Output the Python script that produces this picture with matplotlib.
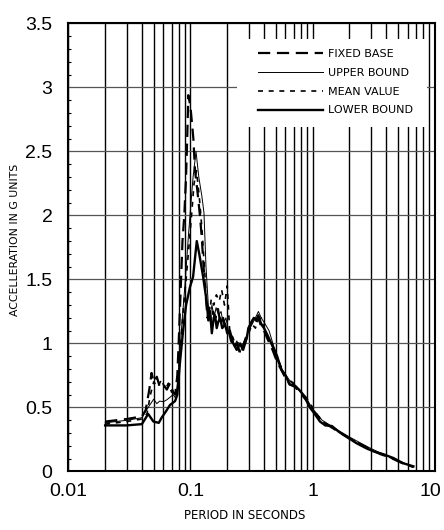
import numpy as np
import matplotlib
matplotlib.use("Agg")
import matplotlib.pyplot as plt
import matplotlib.transforms as mtransforms
from matplotlib.patches import Rectangle
from matplotlib.ticker import FixedLocator, NullFormatter, MultipleLocator

# response spectra (period in s, acceleration in g)
fixed_T = [0.02, 0.03, 0.04, 0.043, 0.046, 0.048, 0.05, 0.053, 0.056, 0.06,
           0.064, 0.068, 0.072, 0.075, 0.078, 0.08, 0.083, 0.086, 0.089, 0.092,
           0.094, 0.096, 0.1, 0.1056, 0.109, 0.1137, 0.1195, 0.1237, 0.128, 0.133,
           0.138, 0.143, 0.148, 0.153, 0.16, 0.168, 0.176, 0.185, 0.195, 0.205,
           0.215, 0.228, 0.24, 0.255, 0.27, 0.285, 0.3, 0.32, 0.34, 0.36,
           0.38, 0.4, 0.43, 0.47, 0.51, 0.55, 0.6, 0.65, 0.72, 0.8,
           0.88, 0.96, 1.05, 1.2, 1.4, 1.7, 2.0, 2.5, 3.0, 3.6,
           4.3, 5.0, 5.8, 6.7]
fixed_A = [0.39, 0.41, 0.43, 0.48, 0.64, 0.77, 0.7, 0.74, 0.66, 0.68,
           0.64, 0.69, 0.62, 0.6, 0.75, 1.0, 1.4, 1.8, 2.0, 2.3,
           2.6, 2.94, 2.85, 2.6, 2.35, 2.2, 2.0, 1.83, 1.6, 1.38,
           1.2, 1.28, 1.15, 1.25, 1.2, 1.27, 1.15, 1.2, 1.12, 1.1,
           1.02, 0.97, 1.0, 0.92, 0.98, 1.05, 1.12, 1.18, 1.15, 1.2,
           1.13, 1.1, 1.03, 0.95, 0.86, 0.8, 0.73, 0.68, 0.66, 0.61,
           0.56, 0.5, 0.46, 0.39, 0.35, 0.3, 0.26, 0.21, 0.17, 0.135,
           0.11, 0.08, 0.055, 0.035]

upper_T = [0.02, 0.03, 0.04, 0.045, 0.05, 0.053, 0.056, 0.06, 0.064, 0.068,
           0.072, 0.076, 0.08, 0.085, 0.09, 0.096, 0.1, 0.105, 0.111, 0.117,
           0.124, 0.129, 0.134, 0.14, 0.145, 0.15, 0.156, 0.162, 0.17, 0.178,
           0.186, 0.195, 0.205, 0.215, 0.228, 0.24, 0.255, 0.27, 0.285, 0.3,
           0.32, 0.34, 0.36, 0.38, 0.41, 0.44, 0.48, 0.52, 0.56, 0.6,
           0.66, 0.72, 0.8, 0.88, 0.97, 1.05, 1.2, 1.4, 1.7, 2.0,
           2.5, 3.0, 3.6, 4.3, 5.0, 5.8, 6.7]
upper_A = [0.38, 0.4, 0.42, 0.5, 0.565, 0.53, 0.55, 0.545, 0.56, 0.58,
           0.6, 0.57, 0.8, 1.15, 1.45, 1.83, 2.05, 2.3, 2.5, 2.3,
           2.15, 2.02, 1.6, 1.3, 1.22, 1.3, 1.2, 1.28, 1.22, 1.25,
           1.15, 1.2, 1.1, 1.05, 0.98, 1.02, 0.93, 1.0, 1.05, 1.1,
           1.15, 1.2, 1.25, 1.2, 1.15, 1.1, 0.98, 0.9, 0.8, 0.76,
           0.7, 0.67, 0.63, 0.58, 0.51, 0.46, 0.4, 0.36, 0.31, 0.27,
           0.22, 0.18, 0.145, 0.115, 0.085, 0.06, 0.04]

mean_T = [0.02, 0.03, 0.04, 0.044, 0.047, 0.05, 0.054, 0.058, 0.062, 0.066,
          0.07, 0.074, 0.078, 0.082, 0.087, 0.092, 0.097, 0.102, 0.107, 0.112,
          0.118, 0.124, 0.13, 0.136, 0.142, 0.148, 0.155, 0.163, 0.172, 0.18,
          0.19, 0.2, 0.21, 0.222, 0.235, 0.25, 0.265, 0.28, 0.3, 0.32,
          0.34, 0.36, 0.38, 0.4, 0.43, 0.46, 0.5, 0.54, 0.58, 0.63,
          0.7, 0.77, 0.85, 0.93, 1.0, 1.1, 1.25, 1.45, 1.7, 2.0,
          2.5, 3.0, 3.6, 4.3, 5.0, 5.8, 6.7]
mean_A = [0.37, 0.39, 0.41, 0.45, 0.6, 0.7, 0.66, 0.72, 0.64, 0.69,
          0.62, 0.65, 0.6, 0.92, 1.25, 1.5, 1.75, 2.0, 2.25, 2.35,
          2.15, 1.9, 1.6, 1.3, 1.18, 1.35, 1.3, 1.38, 1.33, 1.42,
          1.3, 1.45, 1.08, 1.05, 0.98, 1.02, 0.96, 1.0, 1.08, 1.15,
          1.12, 1.18, 1.2, 1.12, 1.05, 1.0, 0.92, 0.84, 0.77, 0.72,
          0.69, 0.64, 0.6, 0.55, 0.5, 0.44, 0.38, 0.35, 0.3, 0.26,
          0.21, 0.17, 0.14, 0.11, 0.08, 0.055, 0.035]

lower_T = [0.02, 0.03, 0.04, 0.0425, 0.045, 0.0497, 0.055, 0.058, 0.063, 0.068,
           0.0748, 0.078, 0.082, 0.087, 0.092, 0.099, 0.105, 0.1126, 0.118, 0.127,
           0.136, 0.14, 0.1446, 0.1496, 0.155, 0.159, 0.164, 0.169, 0.175, 0.182,
           0.192, 0.2, 0.21, 0.224, 0.239, 0.255, 0.27, 0.29, 0.298, 0.31,
           0.33, 0.345, 0.36, 0.38, 0.4, 0.42, 0.45, 0.49, 0.52, 0.56,
           0.6, 0.65, 0.72, 0.79, 0.87, 0.95, 1.04, 1.15, 1.27, 1.44,
           1.64, 1.9, 2.3, 2.77, 3.2, 3.8, 4.6, 5.5, 6.7]
lower_A = [0.36, 0.36, 0.37, 0.41, 0.45, 0.39, 0.38, 0.42, 0.47, 0.52,
           0.55, 0.6, 0.85, 1.1, 1.3, 1.44, 1.52, 1.8, 1.7, 1.52,
           1.32, 1.18, 1.25, 1.08, 1.2, 1.22, 1.12, 1.17, 1.2, 1.12,
           1.15, 1.08, 1.1, 1.0, 0.95, 1.0, 0.95, 1.05, 1.12, 1.15,
           1.2, 1.18, 1.22, 1.15, 1.12, 1.08, 1.02, 0.94, 0.87, 0.79,
           0.75, 0.68, 0.67, 0.63, 0.58, 0.5, 0.45, 0.39, 0.36, 0.355,
           0.31, 0.27, 0.22, 0.18, 0.155, 0.135, 0.105, 0.065, 0.04]

x_major = [0.01, 0.1, 1, 10]
x_major_labels = ["0.01", "0.1", "1", "10"]
y_major = [0, 0.5, 1, 1.5, 2, 2.5, 3, 3.5]
y_major_labels = ["0", "0.5", "1", "1.5", "2", "2.5", "3", "3.5"]

narrow = ["DejaVu Sans"]
plt.rcParams["font.family"] = ["Liberation Sans", "DejaVu Sans"]

fig = plt.figure(figsize=(4.44, 5.30), dpi=100)
ax = fig.add_axes([0.154, 0.1104, 0.825, 0.8453])

ax.set_xscale("log")
ax.set_xlim(0.01, 10)
ax.set_ylim(0, 3.5)

ax.plot(fixed_T, fixed_A, color="black", lw=1.6, ls=(0, (5.5, 3)),
        label="FIXED BASE", zorder=3)
ax.plot(upper_T, upper_A, color="black", lw=0.7, label="UPPER BOUND", zorder=3)
ax.plot(mean_T, mean_A, color="black", lw=1.2, ls=(0, (3, 3.4)),
        label="MEAN VALUE", zorder=3)
ax.plot(lower_T, lower_A, color="black", lw=1.7, label="LOWER BOUND", zorder=3)

# grid
ax.xaxis.set_major_locator(FixedLocator(x_major))
ax.set_xticklabels(x_major_labels)
minors = [m * d for d in (0.01, 0.1, 1) for m in range(2, 10)]
ax.xaxis.set_minor_locator(FixedLocator(minors))
ax.xaxis.set_minor_formatter(NullFormatter())
ax.set_yticks(y_major)
ax.set_yticklabels(y_major_labels)
ax.yaxis.set_minor_locator(MultipleLocator(0.1))

ax.grid(True, axis="x", which="both", color="black", lw=1.0)
ax.grid(True, axis="y", which="major", color="#555555", lw=0.9)
ax.tick_params(axis="x", which="both", length=0, pad=8, labelsize=14)
ax.tick_params(axis="y", which="major", length=0, pad=11.5, labelsize=14)
ax.tick_params(axis="y", which="minor", direction="in", length=2.5, width=0.8)
for s in ax.spines.values():
    s.set_linewidth(1.5)

# nudge the "10" label a little left so it stays inside the figure
last = ax.get_xticklabels()[-1]
last.set_transform(last.get_transform() +
                   mtransforms.ScaledTranslation(-4 / 100, 0, fig.dpi_scale_trans))

# white box behind the legend hides the grid there
ax.add_patch(Rectangle((0.46, 0.769), 0.52, 0.197, transform=ax.transAxes,
                       facecolor="white", edgecolor="none", zorder=2.5))
leg = ax.legend(loc="upper left", bbox_to_anchor=(0.518, 0.9435), frameon=False,
                borderpad=0, borderaxespad=0, handlelength=5.8, handletextpad=0.45,
                labelspacing=0.8, prop={"family": narrow, "size": 8})
leg.set_zorder(5)

ax.set_ylabel("ACCELLERATION IN G UNITS", family=narrow, fontsize=7.8, va="center")
ax.yaxis.set_label_coords(-0.1455, 0.517)
ax.set_xlabel("PERIOD IN SECONDS", family=narrow, fontsize=8.5, va="center")
ax.xaxis.set_label_coords(0.4825, -0.099)

fig.savefig("out.png", dpi=100)
